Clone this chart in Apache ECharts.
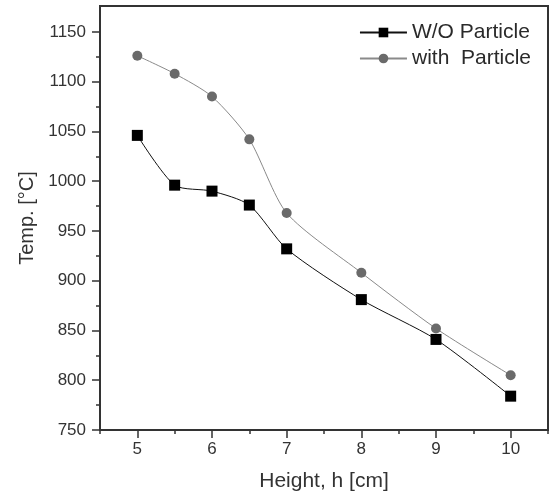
<!DOCTYPE html>
<html>
<head>
<meta charset="utf-8">
<script src="https://cdn.jsdelivr.net/npm/echarts@6/dist/echarts.min.js"></script>
<style>html,body{margin:0;padding:0;background:#fff}#c{width:551px;height:496px}</style>
</head>
<body>
<div id="c"></div>
<script>
var heights = [5, 5.5, 6, 6.5, 7, 8, 9, 10];
var tempWithout = [1046, 996, 990, 976, 932, 881, 841, 784];
var tempWith = [1126, 1108, 1085, 1042, 968, 908, 852, 805];
var xMajorTicks = [5, 6, 7, 8, 9, 10];
var xMinorTicks = [4.5, 5.5, 6.5, 7.5, 8.5, 9.5, 10.5];
var yMajorTicks = [750, 800, 850, 900, 950, 1000, 1050, 1100, 1150];
var yMinorTicks = [775, 825, 875, 925, 975, 1025, 1075, 1125];
var seriesNames = ['W/O Particle', 'with  Particle'];

function pairs(xs, ys) { return xs.map(function (x, i) { return [x, ys[i]]; }); }

var FONT = 'Liberation Sans';
var AX = '#333';
var gridPos = { left: 100, right: 3, top: 6, bottom: 66, outerBoundsMode: 'none' };
var plain = function (v) { return String(v); };

var chart = echarts.init(document.getElementById('c'), null, { renderer: 'canvas' });
chart.setOption({
  backgroundColor: '#fff',
  animation: false,
  textStyle: { fontFamily: FONT },
  grid: [
    Object.assign({ show: true, borderColor: AX, borderWidth: 2, backgroundColor: 'transparent' }, gridPos),
    Object.assign({}, gridPos)
  ],
  legend: {
    orient: 'vertical',
    right: 15,
    top: 17,
    itemWidth: 47,
    itemHeight: 12,
    itemGap: 5,
    textStyle: { fontFamily: FONT, fontSize: 21, color: '#2a2a2a', lineHeight: 20 },
    data: seriesNames
  },
  xAxis: [
    {
      type: 'value', gridIndex: 0, min: 4.5, max: 10.5,
      name: 'Height, h [cm]', nameLocation: 'middle', nameGap: 41,
      nameTextStyle: { fontFamily: FONT, fontSize: 21, color: '#333' },
      axisLine: { show: true, lineStyle: { color: AX, width: 2 } },
      axisTick: { show: true, customValues: xMajorTicks, length: 8, lineStyle: { color: AX, width: 1.5 } },
      axisLabel: { customValues: xMajorTicks, formatter: plain, margin: 11, fontFamily: FONT, fontSize: 17, color: '#333' },
      splitLine: { show: false }
    },
    {
      type: 'value', gridIndex: 1, min: 4.5, max: 10.5,
      axisLine: { show: false },
      axisTick: { show: true, customValues: xMinorTicks, length: 4, lineStyle: { color: AX, width: 1.5 } },
      axisLabel: { show: false },
      splitLine: { show: false }
    }
  ],
  yAxis: [
    {
      type: 'value', gridIndex: 0, min: 750, max: 1176,
      name: 'Temp. [°C]', nameLocation: 'middle', nameGap: 63, nameRotate: 90,
      nameTextStyle: { fontFamily: FONT, fontSize: 20, color: '#333' },
      axisLine: { show: true, lineStyle: { color: AX, width: 2 } },
      axisTick: { show: true, customValues: yMajorTicks, length: 8, lineStyle: { color: AX, width: 1.5 } },
      axisLabel: { customValues: yMajorTicks, formatter: plain, margin: 14, fontFamily: FONT, fontSize: 17, color: '#333' },
      splitLine: { show: false }
    },
    {
      type: 'value', gridIndex: 1, min: 750, max: 1176,
      axisLine: { show: false },
      axisTick: { show: true, customValues: yMinorTicks, length: 4, lineStyle: { color: AX, width: 1.5 } },
      axisLabel: { show: false },
      splitLine: { show: false }
    }
  ],
  series: [
    {
      name: seriesNames[0], type: 'line', xAxisIndex: 0, yAxisIndex: 0,
      data: pairs(heights, tempWithout),
      smooth: 0.25,
      symbol: 'rect', symbolSize: 11,
      itemStyle: { color: '#000' },
      lineStyle: { color: '#111', width: 1 }
    },
    {
      name: seriesNames[1], type: 'line', xAxisIndex: 0, yAxisIndex: 0,
      data: pairs(heights, tempWith),
      smooth: 0.25,
      symbol: 'circle', symbolSize: 10,
      itemStyle: { color: '#6a6a6a' },
      lineStyle: { color: '#8a8a8a', width: 1 }
    }
  ]
});
</script>
</body>
</html>
